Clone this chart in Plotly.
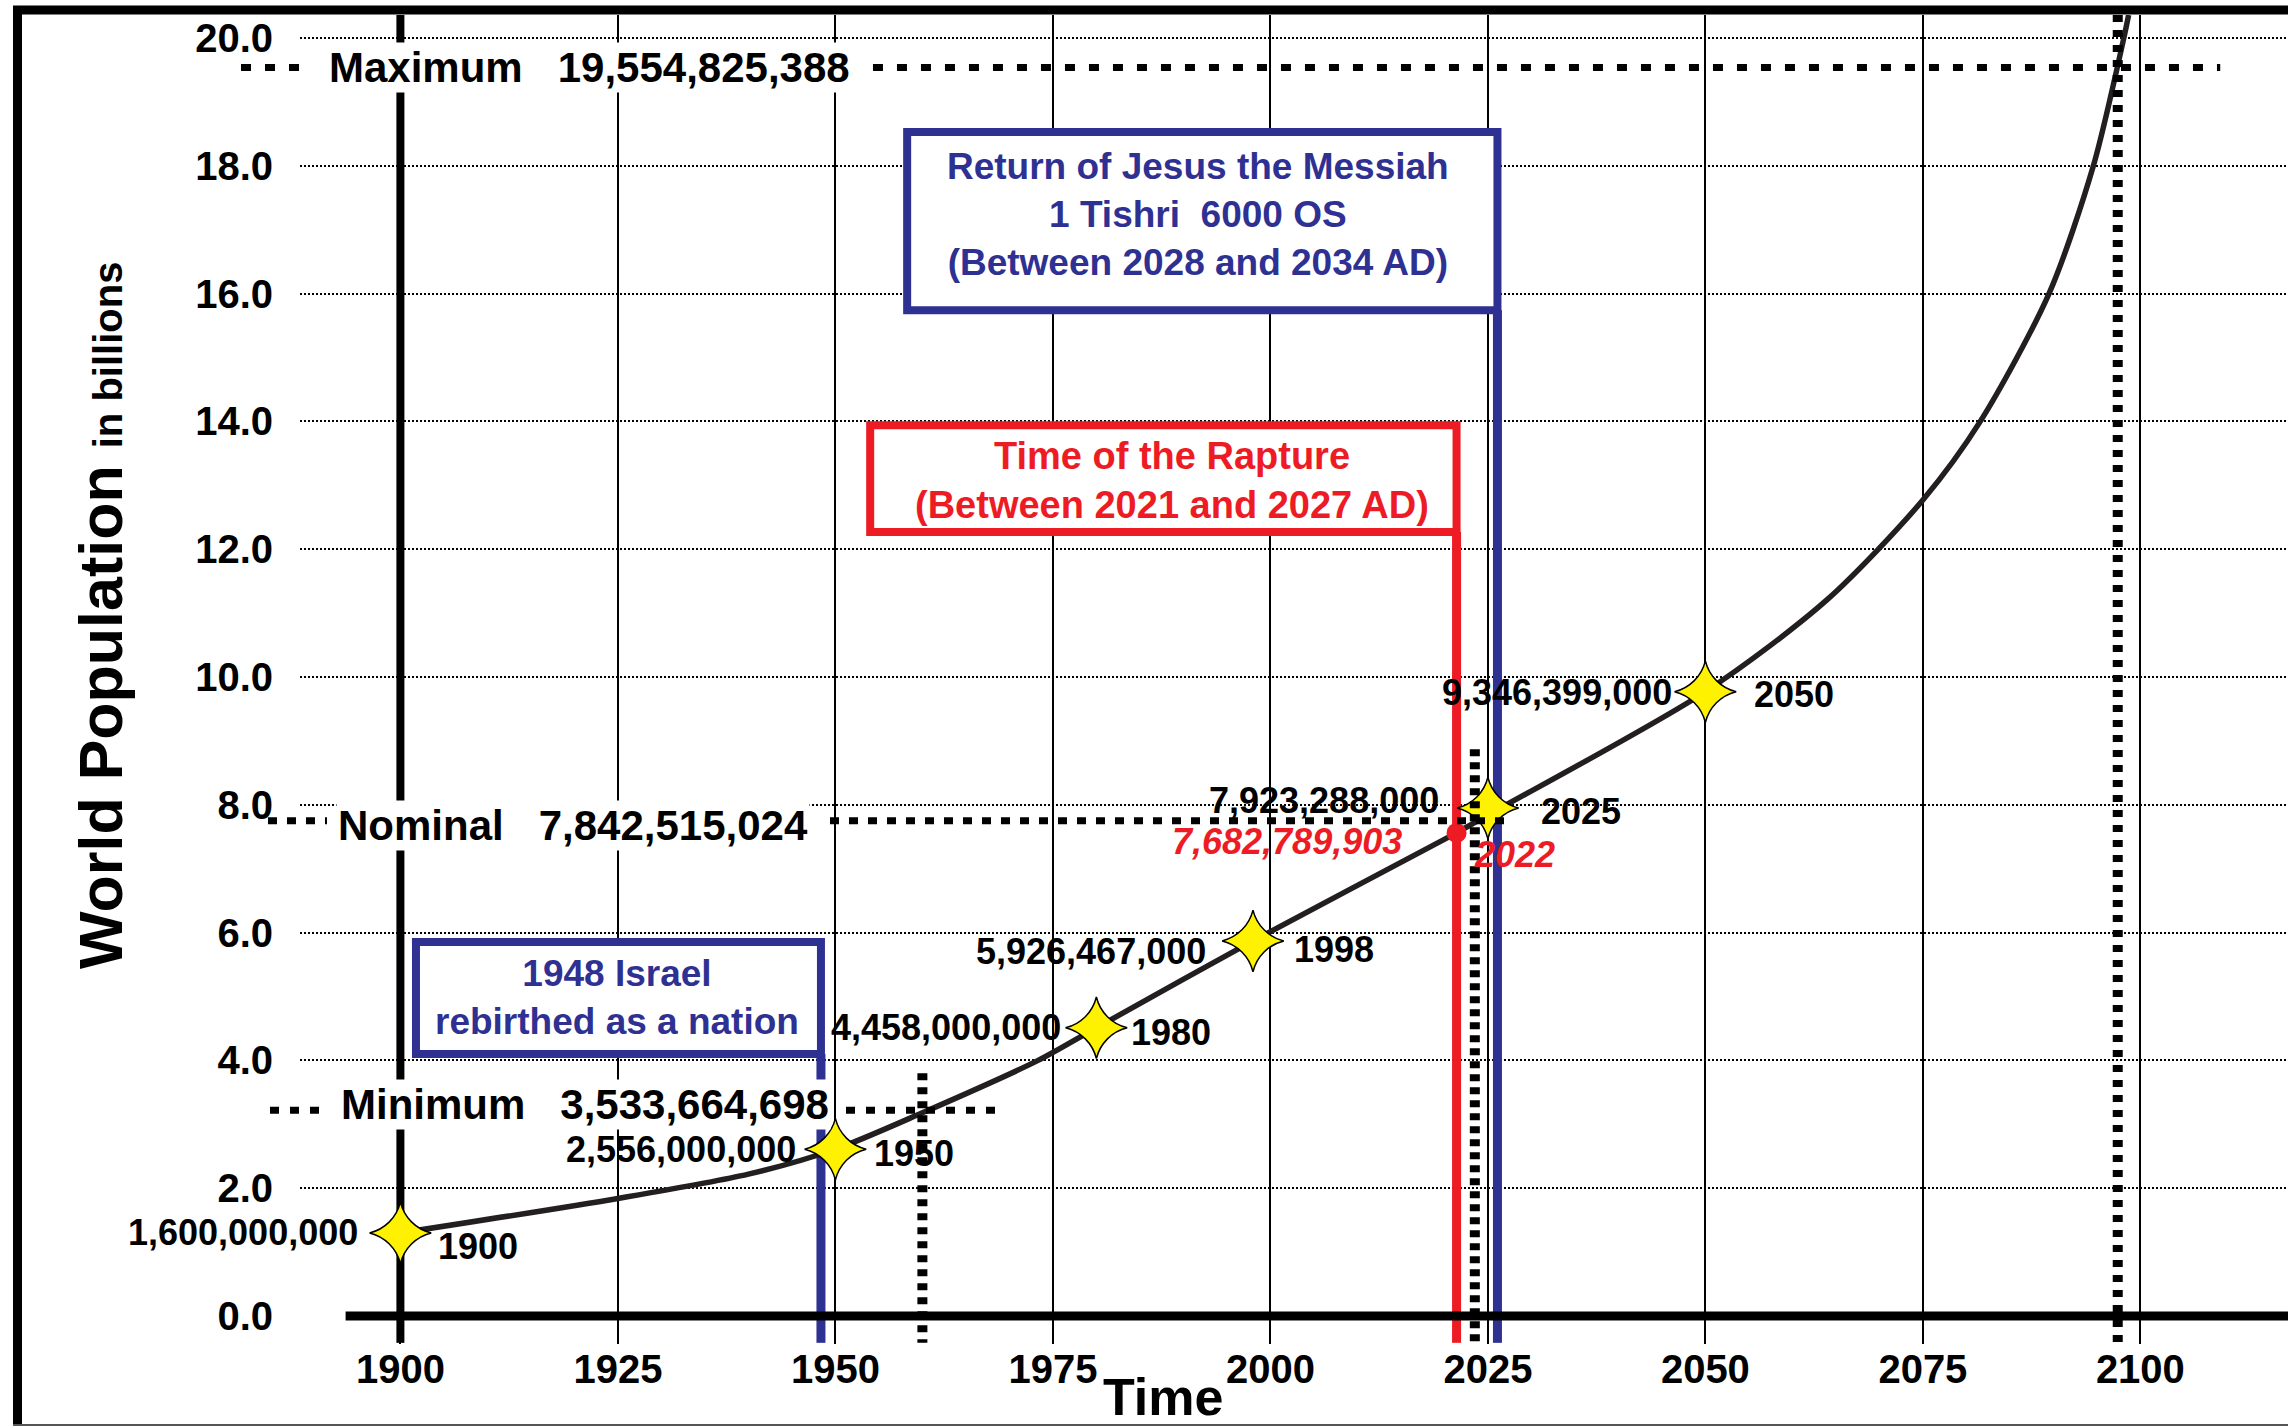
import plotly.graph_objects as go

# ---------------- data ----------------
curve_years = [1900, 1925, 1940, 1950, 1960, 1973.3, 1980, 1998, 2021.4, 2025,
               2050, 2064, 2075, 2081.6, 2089.5, 2094.6, 2098.1, 2098.65]
curve_pop = [1.30, 1.84, 2.22, 2.61, 3.18, 4.0, 4.51, 5.87, 7.56, 7.84,
             9.77, 11.21, 12.77, 14.0, 16.0, 18.0, 20.0, 20.36]

star_years = [1900, 1950, 1980, 1998, 2025, 2050]
star_pop = [1.30, 2.61, 4.51, 5.87, 7.95, 9.77]
star_value_text = ["1,600,000,000", "2,556,000,000", "4,458,000,000",
                   "5,926,467,000", "7,923,288,000", "9,346,399,000"]
star_year_text = ["1900", "1950", "1980", "1998", "2025", "2050"]

rapture_years = [2021.4]
rapture_pop = [7.56]
rapture_value_text = "7,682,789,903"
rapture_year_text = "2022"

level_names = ["Maximum", "Nominal", "Minimum"]
level_pop = [19.54, 7.75, 3.22]
level_text = ["19,554,825,388", "7,842,515,024", "3,533,664,698"]

y_ticks = [0, 2, 4, 6, 8, 10, 12, 14, 16, 18, 20]
x_ticks = [1900, 1925, 1950, 1975, 2000, 2025, 2050, 2075, 2100]

israel_year = 1948.34
rapture_line_year = 2021.4
return_line_year = 2026.1
dotted_years = [1960, 2023.5, 2097.4]

# ---------------- layout constants ----------------
W, H = 2288, 1427
ML, MR, MT, MB = 300, 0, 15, 111
X0, X1 = 1888.46, 2116.97
Y0, Y1 = 0.0, 20.36

RED = "#ED1C24"
BLUE = "#2E3192"
INK = "#231F20"
FONT = "Liberation Sans, Arial, Helvetica, sans-serif"


def xp(yr):
    return (yr - X0) / (X1 - X0)


def yp(v):
    return (v - Y0) / (Y1 - Y0)


def px_x(p):
    return (p - ML) / (W - ML - MR)


def px_y(p):
    return (H - MB - p) / (H - MB - MT)


BELOW = -0.42  # value (in axis units) where ticks / event lines end under the axis

fig = go.Figure()

fig.add_trace(go.Scatter(
    x=curve_years, y=curve_pop, mode="lines",
    line=dict(color=INK, width=5.5, shape="spline", smoothing=0.8),
    hoverinfo="skip", showlegend=False))

fig.add_trace(go.Scatter(
    x=rapture_years, y=rapture_pop, mode="markers",
    marker=dict(symbol="circle", size=20, color=RED),
    hoverinfo="skip", showlegend=False))

fig.add_trace(go.Scatter(
    x=star_years, y=star_pop, mode="markers",
    marker=dict(symbol="star-diamond", size=44, color="#FFF200",
                line=dict(color="black", width=1.5)),
    hoverinfo="skip", showlegend=False, cliponaxis=False))

shapes = []

# frame
shapes.append(dict(type="line", xref="paper", yref="paper", x0=px_x(13), x1=1.01,
                   y0=px_y(10), y1=px_y(10), line=dict(color="black", width=9), layer="above"))
shapes.append(dict(type="line", xref="paper", yref="paper", x0=px_x(17.5), x1=px_x(17.5),
                   y0=px_y(6), y1=px_y(1424), line=dict(color="black", width=9), layer="above"))
shapes.append(dict(type="line", xref="paper", yref="paper", x0=px_x(13), x1=1.01,
                   y0=px_y(1425), y1=px_y(1425), line=dict(color="#555", width=2), layer="above"))

# y axis (1900) thick line
shapes.append(dict(type="line", xref="x", yref="y", x0=1900, x1=1900, y0=0, y1=Y1,
                   line=dict(color="black", width=8), layer="between"))
shapes.append(dict(type="line", xref="x", yref="paper", x0=1900, x1=1900, y0=0, y1=yp(BELOW),
                   line=dict(color="black", width=8), layer="above"))

# boxes
boxes = [
    (1901.79, 1948.34, 4.10, 5.853, BLUE),   # Israel
    (1954.0, rapture_line_year, 12.27, 13.94, RED),  # Rapture
    (1958.25, return_line_year, 15.74, 18.53, BLUE),  # Return
]
for bx0, bx1, by0, by1, col in boxes:
    shapes.append(dict(type="rect", xref="x", yref="y", x0=bx0, x1=bx1, y0=by0, y1=by1,
                       line=dict(color=col, width=8), fillcolor="white", layer="between"))

# event lines from boxes down below the axis
for ex, etop, col in [(israel_year, 4.10, BLUE), (rapture_line_year, 12.27, RED), (return_line_year, 15.74, BLUE)]:
    shapes.append(dict(type="line", xref="x", yref="y", x0=ex, x1=ex, y0=0, y1=etop,
                       line=dict(color=col, width=9), layer="between"))
    shapes.append(dict(type="line", xref="x", yref="paper", x0=ex, x1=ex, y0=0, y1=yp(BELOW),
                       line=dict(color=col, width=9), layer="below"))

# vertical dotted lines
for dx, dtop, dash in [(dotted_years[0], 3.80, "7px,7px"), (dotted_years[1], 8.87, "7px,6px"),
                       (dotted_years[2], Y1, "7px,8px")]:
    shapes.append(dict(type="line", xref="x", yref="paper", x0=dx, x1=dx, y0=yp(dtop), y1=yp(BELOW),
                       line=dict(color="black", width=10, dash=dash), layer="above"))

# horizontal dotted level lines (two segments each, text sits between)
level_segments = [
    [(1881.68, 1888.46), (1954.32, 2109.18)],
    [(1884.78, 1891.56), (1949.38, 2027.77)],
    [(1885.01, 1891.33), (1951.22, 1969.49)],
]
level_dash = ["10px,14px", "9px,10px", "9px,11px"]
for lv, segs, dash in zip(level_pop, level_segments, level_dash):
    for sx0, sx1 in segs:
        shapes.append(dict(type="line", xref="paper", yref="y", x0=xp(sx0), x1=xp(sx1), y0=lv, y1=lv,
                           line=dict(color="black", width=7, dash=dash), layer="above"))

# x axis thick line
shapes.append(dict(type="line", xref="x", yref="paper", x0=1893.7, x1=X1, y0=0, y1=0,
                   line=dict(color="black", width=9), layer="above"))

annotations = []

# level labels
level_label_x = [1891.6, 1892.6, 1892.9]
level_label_y = [19.54, 7.67, 3.31]
for name, txt, lx, ly in zip(level_names, level_text, level_label_x, level_label_y):
    annotations.append(dict(x=lx, y=ly, xref="x", yref="y", xanchor="left", yanchor="middle",
                            text=name + "\u00a0\u00a0\u00a0" + txt, showarrow=False,
                            bgcolor="white", borderpad=1,
                            font=dict(family=FONT, size=42, color="black", weight="bold")))

# star labels
value_label_x = [1895.4, 1945.7, 1976.2, 1992.8, 2019.6, 2046.4]
value_label_y = [1.30, 2.60, 4.52, 5.71, 8.06, 9.75]
year_label_x = [1904.1, 1954.2, 1983.7, 2002.5, 2030.9, 2055.4]
year_label_y = [1.08, 2.55, 4.44, 5.73, 7.90, 9.72]
for vt, vx, vy in zip(star_value_text, value_label_x, value_label_y):
    annotations.append(dict(x=vx, y=vy, xref="x", yref="y", xanchor="right", yanchor="middle",
                            text=vt, showarrow=False,
                            font=dict(family=FONT, size=36, color="black", weight="bold")))
for yt, yx, yy in zip(star_year_text, year_label_x, year_label_y):
    annotations.append(dict(x=yx, y=yy, xref="x", yref="y", xanchor="left", yanchor="middle",
                            text=yt, showarrow=False,
                            font=dict(family=FONT, size=36, color="black", weight="bold")))

annotations.append(dict(x=2015.4, y=7.43, xref="x", yref="y", xanchor="right", yanchor="middle",
                        text=rapture_value_text, showarrow=False,
                        font=dict(family=FONT, size=36, color=RED, weight="bold", style="italic")))
annotations.append(dict(x=2023.2, y=7.23, xref="x", yref="y", xanchor="left", yanchor="middle",
                        text=rapture_year_text, showarrow=False,
                        font=dict(family=FONT, size=36, color=RED, weight="bold", style="italic")))

# box texts
annotations.append(dict(x=1924.92, y=4.984, xref="x", yref="y", xanchor="center", yanchor="middle",
                        text="1948 Israel<br>rebirthed as a nation", showarrow=False,
                        font=dict(family=FONT, size=37, color=BLUE, weight="bold")))
annotations.append(dict(x=1988.72, y=13.08, xref="x", yref="y", xanchor="center", yanchor="middle",
                        text="Time of the Rapture<br>(Between 2021 and 2027 AD)", showarrow=False,
                        font=dict(family=FONT, size=38, color=RED, weight="bold")))
annotations.append(dict(x=1991.68, y=17.245, xref="x", yref="y", xanchor="center", yanchor="middle",
                        text="Return of Jesus the Messiah<br>1 Tishri\u00a0\u00a06000 OS<br>(Between 2028 and 2034 AD)",
                        showarrow=False,
                        font=dict(family=FONT, size=37, color=BLUE, weight="bold")))

# axis titles
annotations.append(dict(x=px_x(101), y=px_y(616), xref="paper", yref="paper",
                        xanchor="center", yanchor="middle", textangle=-90,
                        text="World Population <span style='font-size:40px'>in billions</span>",
                        showarrow=False,
                        font=dict(family=FONT, size=61, color="black", weight="bold")))
annotations.append(dict(x=px_x(1163), y=px_y(1397), xref="paper", yref="paper",
                        xanchor="center", yanchor="middle", text="Time", showarrow=False,
                        font=dict(family=FONT, size=52, color="black", weight="bold")))

fig.update_layout(
    width=W, height=H,
    margin=dict(l=ML, r=MR, t=MT, b=MB, pad=0),
    paper_bgcolor="white", plot_bgcolor="white",
    showlegend=False,
    shapes=shapes, annotations=annotations,
    xaxis=dict(range=[X0, X1], tickvals=x_ticks, ticktext=[str(t) for t in x_ticks],
               showgrid=True, gridcolor="black", gridwidth=2,
               ticks="outside", ticklen=27, tickwidth=2, tickcolor="black",
               showline=False, zeroline=False, ticklabelstandoff=-9,
               tickfont=dict(family=FONT, size=40, color="black", weight="bold")),
    yaxis=dict(range=[Y0, Y1], tickvals=y_ticks, tickformat=".1f",
               showgrid=True, gridcolor="black", gridwidth=1.5, griddash="2px,2px",
               ticks="", showline=False, zeroline=False, ticklabelstandoff=26,
               tickfont=dict(family=FONT, size=40, color="black", weight="bold")),
)

fig.write_html("out.html", config={"displayModeBar": False},
               post_script="document.body.style.margin='0';document.body.style.overflow='hidden';")
